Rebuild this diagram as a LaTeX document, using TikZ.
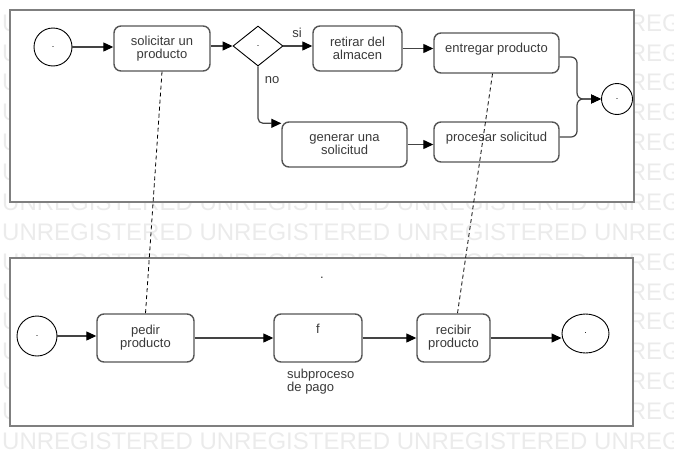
\documentclass[tikz,border=0pt]{standalone}
\usepackage{fontspec}
\setmainfont{Liberation Sans}
\usetikzlibrary{arrows.meta,shapes.geometric}
\definecolor{wm}{HTML}{EBEBEB}
\definecolor{poolc}{HTML}{7F7F7F}
\definecolor{boxline}{HTML}{555555}
\definecolor{txt}{HTML}{3A3A3A}
\definecolor{conn}{HTML}{444444}
\begin{document}
\begin{tikzpicture}[x=1pt,y=-1pt,
  task/.style={draw=boxline, line width=1.4pt, rounded corners=7pt, fill=white, text=txt,
    font=\fontsize{13}{13}\selectfont, align=center, inner sep=0pt},
  hi/.style={text height=9.5pt, text depth=10pt},
  evt/.style={circle, draw=black, line width=0.9pt, fill=white, inner sep=0pt,
    font=\fontsize{9}{9}\selectfont},
  gw/.style={diamond, draw=black, line width=0.9pt, fill=white, inner sep=0pt,
    minimum width=50pt, minimum height=40pt, font=\fontsize{9}{9}\selectfont},
  flow/.style={draw=conn, line width=1.2pt, -{Triangle[length=10pt,width=9pt,black]}},
  assoc/.style={draw=black, line width=0.8pt, dash pattern=on 4pt off 3pt},
  lbl/.style={text=txt, font=\fontsize{13}{13}\selectfont, inner sep=0pt},
  wmark/.style={text=wm, font=\fontsize{24}{24}\selectfont, anchor=west, inner sep=0pt},
  poolbox/.style={draw=poolc, line width=2pt, fill=white}]
\useasboundingbox (0,0) rectangle (674,466);
% watermark
\foreach \i in {0,...,14}
  \node[wmark] (wm\i) at (2,{23+29.86*\i}) {UNREGISTERED UNREGISTERED UNREGISTERED UNREGISTERED};
% pools
\path[poolbox] (10,10) rectangle (634,202);
\path[poolbox] (10,258) rectangle (633,426);
% top pool
\node[evt, minimum size=38pt] (s1) at (53,47) {.};
\node[task, minimum width=96pt, minimum height=45pt] (sol) at (162,48.5) {solicitar un\\producto};
\node[gw] (g1) at (258,46) {.};
\node[task, minimum width=89pt, minimum height=45pt] (ret) at (357.5,48.5) {retirar del\\almacen};
\node[task, hi, minimum width=125pt, minimum height=40pt] (ent) at (496.5,53) {entregar producto};
\node[task, minimum width=125pt, minimum height=45pt] (gen) at (344.5,144.5) {generar una\\solicitud};
\node[task, hi, minimum width=125pt, minimum height=40pt] (pro) at (496.5,142) {procesar solicitud};
\node[evt, minimum size=31pt] (e1) at (617,99) {.};
\node[lbl] (si) at (297,33) {si};
\node[lbl] (no) at (272,80) {no};
% bottom pool
\node[evt, minimum size=40pt] (s2) at (37,336) {.};
\node[task, minimum width=97pt, minimum height=48pt] (ped) at (145.5,338) {pedir\\producto};
\node[task, minimum width=88pt, minimum height=48pt] (fb) at (318,338) {};
\node[lbl] (ft) at (318,329) {f};
\node[lbl, align=left, anchor=west] (sub) at (287,381.5) {subproceso\\de pago};
\node[task, minimum width=73pt, minimum height=48pt] (rec) at (453.5,338) {recibir\\producto};
\node[ellipse, draw=black, line width=0.9pt, fill=white, inner sep=0pt,
  minimum width=47pt, minimum height=39pt, font=\fontsize{9}{9}\selectfont] (e2) at (585.5,333.5) {.};
\node[lbl, anchor=base] (lane) at (322,278) {.};
% flows top
\draw[flow] (s1.east) -- (s1.east -| sol.west);
\draw[flow] (sol.east |- g1.west) -- (g1.west);
\draw[flow] (g1.east) -- (g1.east -| ret.west);
\draw[flow, rounded corners=5pt] (g1.south) |- ([yshift=-2pt]gen.north west);
\draw[flow] (ret.east) -- (ret.east -| ent.west);
\draw[flow] (gen.east) -- (gen.east -| pro.west);
\draw[flow, rounded corners=6pt] ([yshift=-4pt]ent.east) -| ([xshift=-24pt]e1.west) -- (e1.west);
\draw[flow, rounded corners=6pt] ([yshift=5pt]pro.east) -| ([xshift=-24pt]e1.west) -- (e1.west);
% flows bottom
\draw[flow] (s2.east) -- (s2.east -| ped.west);
\draw[flow] (ped.east) -- (ped.east -| fb.west);
\draw[flow] (fb.east) -- (fb.east -| rec.west);
\draw[flow] (rec.east) -- (rec.east -| e2.west);
% associations
\draw[assoc] (sol.south) -- (ped.north);
\draw[assoc] ([xshift=-4pt]ent.south) -- ([xshift=4pt]rec.north);
\end{tikzpicture}
\end{document}
